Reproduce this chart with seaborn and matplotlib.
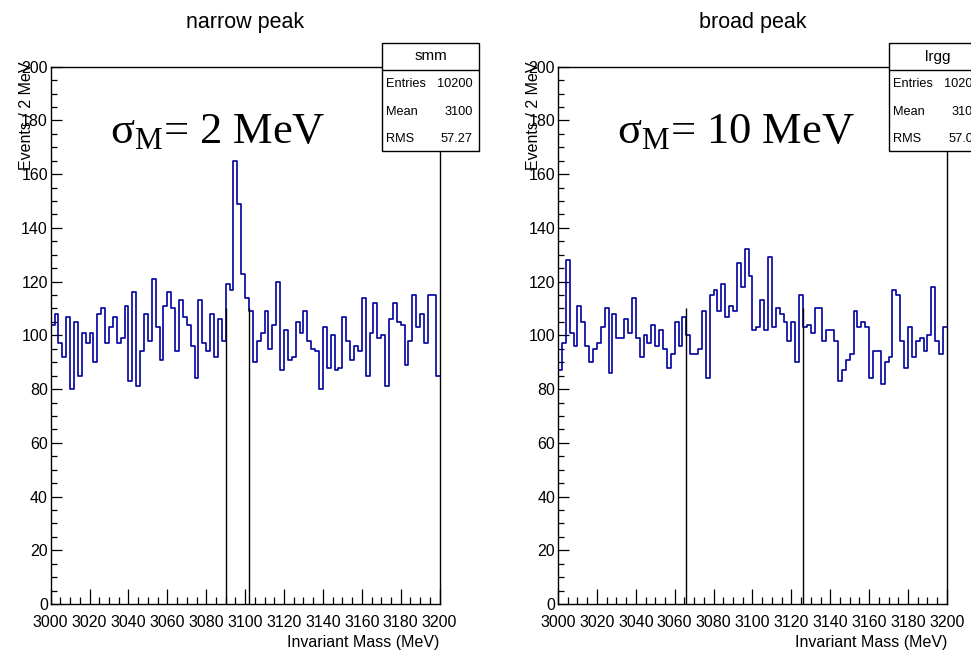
import numpy as np
import pandas as pd
import matplotlib
matplotlib.use("Agg")
import matplotlib.pyplot as plt
from matplotlib.lines import Line2D
from matplotlib.patches import Rectangle
from matplotlib.ticker import MultipleLocator
import seaborn as sns

# binning of both histograms (MeV)
mass_lo, mass_hi, bin_width = 3000, 3200, 2

# bin contents, 100 bins of 2 MeV each
narrow_counts = [104, 108, 97, 92, 107, 80, 105, 85, 101, 97,
                 101, 90, 108, 110, 97, 103, 107, 97, 99, 111,
                 83, 116, 81, 94, 108, 98, 121, 103, 91, 111,
                 116, 110, 94, 113, 107, 104, 96, 84, 113, 97,
                 94, 108, 92, 106, 98, 119, 117, 165, 149, 123,
                 114, 109, 90, 98, 101, 109, 95, 104, 120, 87,
                 102, 91, 92, 105, 101, 109, 98, 95, 94, 80,
                 103, 88, 100, 87, 88, 107, 98, 91, 96, 94,
                 114, 85, 101, 112, 99, 100, 81, 106, 112, 105,
                 104, 89, 98, 115, 103, 108, 97, 115, 115, 85]

broad_counts = [87, 97, 128, 101, 96, 111, 105, 96, 90, 95,
                97, 103, 110, 86, 108, 99, 99, 106, 101, 114,
                99, 92, 100, 97, 104, 96, 102, 95, 88, 93,
                105, 96, 107, 100, 93, 93, 95, 109, 84, 115,
                117, 109, 119, 107, 111, 109, 127, 118, 132, 122,
                102, 103, 113, 102, 129, 103, 110, 108, 105, 98,
                105, 90, 115, 103, 104, 101, 110, 110, 98, 102,
                102, 98, 83, 87, 91, 93, 109, 103, 105, 103,
                84, 94, 94, 82, 90, 92, 117, 115, 98, 88,
                103, 92, 98, 99, 94, 100, 118, 98, 93, 103]

# +-3 sigma window around 3096 MeV
narrow_window = [3090, 3102]
broad_window = [3066, 3126]
window_height = 110

panel_titles = ["narrow peak", "broad peak"]
hist_names = ["smm", "lrgg"]
sigma_texts = ["2 MeV", "10 MeV"]
stats_entries = ["10200", "10200"]
stats_mean = ["3100", "3100"]
stats_rms = ["57.27", "57.06"]

sns.set_style("ticks")
plt.rcParams["font.family"] = ["Liberation Sans", "DejaVu Sans"]
plt.rcParams["mathtext.fontset"] = "custom"
plt.rcParams["mathtext.rm"] = "Liberation Serif"
plt.rcParams["text.color"] = "black"
plt.rcParams["axes.labelcolor"] = "black"
plt.rcParams["xtick.color"] = "black"
plt.rcParams["ytick.color"] = "black"

W, H = 971, 650
fig = plt.figure(figsize=(W / 100, H / 100), dpi=100)


def fx(px):
    return px / W


def fy(py):
    return 1 - py / H


centers = np.arange(mass_lo, mass_hi, bin_width) + bin_width / 2

panels = [
    (50.7, narrow_counts, narrow_window),
    (558.0, broad_counts, broad_window),
]

for i, (left_px, counts, window) in enumerate(panels):
    ax = fig.add_axes([fx(left_px), fy(604), 388.9 / W, 537.3 / H])

    df = pd.DataFrame({"mass": centers, "events": counts})
    sns.histplot(data=df, x="mass", weights="events", binwidth=bin_width,
                 binrange=(mass_lo, mass_hi), element="step", fill=False,
                 color="#0000a0", linewidth=1.2, ax=ax)
    ax.vlines(window, 0, window_height, color="black", linewidth=1.0)

    ax.set_xlim(mass_lo, mass_hi)
    ax.set_ylim(0, 200)
    ax.xaxis.set_major_locator(MultipleLocator(20))
    ax.xaxis.set_minor_locator(MultipleLocator(5))
    ax.yaxis.set_major_locator(MultipleLocator(20))
    ax.yaxis.set_minor_locator(MultipleLocator(5))
    ax.tick_params(axis="x", which="major", direction="in", length=10.5,
                   width=0.9, labelsize=11.5, pad=7.8)
    ax.tick_params(axis="x", which="minor", direction="in", length=5.2,
                   width=0.9)
    ax.tick_params(axis="y", which="major", direction="in", length=7.7,
                   width=0.9, labelsize=11.5, pad=2)
    ax.tick_params(axis="y", which="minor", direction="in", length=4.1,
                   width=0.9)
    for sp in ax.spines.values():
        sp.set_visible(True)
        sp.set_color("black")
        sp.set_linewidth(1.0)

    ax.set_xlabel("Invariant Mass (MeV)", fontsize=11.5, loc="right")
    ax.xaxis.set_label_coords(1.0, -0.057)
    ax.set_ylabel("Events / 2 MeV", fontsize=11.5, loc="top")
    ax.yaxis.set_label_coords(-0.043, 1.01)
    ax.set_title(panel_titles[i], fontsize=15.5, pad=28)

    ax.text(0.152, 0.858, r"$\mathrm{\sigma_{M}}$= " + sigma_texts[i],
            transform=ax.transAxes, fontsize=32, family="Liberation Serif",
            va="baseline", ha="left")

    # ROOT style statistics box
    bx = left_px + 331.0
    fig.add_artist(Rectangle((fx(bx), fy(151)), 97.6 / W, 108.3 / H,
                             transform=fig.transFigure, facecolor="white",
                             edgecolor="black", linewidth=1.0, zorder=5))
    fig.add_artist(Line2D([fx(bx), fx(bx + 97.6)], [fy(70), fy(70)],
                          transform=fig.transFigure, color="black",
                          linewidth=1.0, zorder=6))
    fig.text(fx(bx + 48.8), fy(56.5), hist_names[i], ha="center", va="center",
             fontsize=11, zorder=7)
    rows = [("Entries", stats_entries[i]), ("Mean", stats_mean[i]),
            ("RMS", stats_rms[i])]
    for j, (lab, val) in enumerate(rows):
        y = fy(84.3 + 27.5 * j)
        fig.text(fx(bx + 4), y, lab, ha="left", va="center", fontsize=9.2,
                 zorder=7)
        fig.text(fx(bx + 91), y, val, ha="right", va="center", fontsize=9.2,
                 zorder=7)

fig.savefig("out.png", dpi=100)
